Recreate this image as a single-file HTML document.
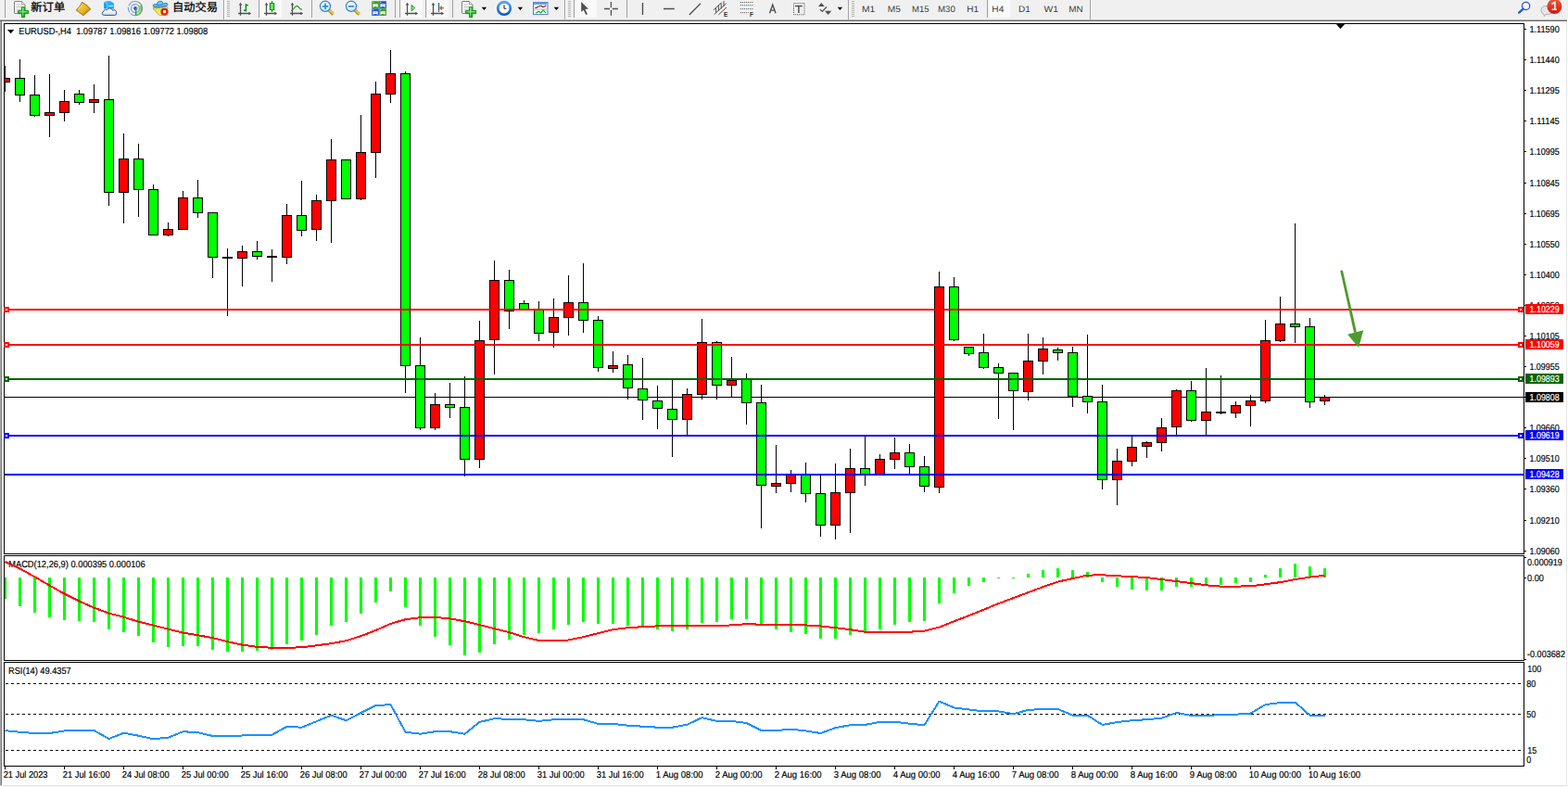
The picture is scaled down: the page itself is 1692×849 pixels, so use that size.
<!DOCTYPE html>
<html><head><meta charset="utf-8"><title>EURUSD-,H4</title>
<style>
html,body{margin:0;padding:0;background:#fff;}
body{width:1692px;height:849px;overflow:hidden;position:relative;font-family:"Liberation Sans",sans-serif;}
svg{position:absolute;left:0;top:0;display:block;}
text{font-family:"Liberation Sans",sans-serif;}
</style></head>
<body>
<svg width="1692" height="849" viewBox="0 0 1692 849">
<g shape-rendering="crispEdges">
<rect x="0" y="0" width="1692" height="849" fill="#ffffff"/>
<rect x="0" y="0" width="1692" height="20" fill="#f0f0f0"/>
<rect x="0" y="20" width="1692" height="1" fill="#f4f4f4"/>
<rect x="0" y="21" width="1691" height="1" fill="#b2b2b2"/>
<rect x="0" y="22" width="1691" height="1" fill="#6a6a6a"/>
<rect x="0" y="23" width="1" height="824" fill="#ababab"/>
<rect x="1" y="23" width="1" height="824" fill="#777777"/>
<rect x="1690" y="23" width="1" height="825" fill="#e6e6e6"/>
<rect x="0" y="847" width="1691" height="1" fill="#e2e2e2"/>
<rect x="0" y="848" width="1692" height="1" fill="#f6f6f6"/>
<rect x="4" y="25" width="1641" height="1" fill="#000"/>
<rect x="4" y="597" width="1641" height="1" fill="#000"/>
<rect x="4" y="25" width="1" height="573" fill="#000"/>
<rect x="1644" y="25" width="1" height="573" fill="#000"/>
<rect x="4" y="599" width="1641" height="1" fill="#000"/>
<rect x="4" y="712" width="1641" height="1" fill="#000"/>
<rect x="4" y="599" width="1" height="114" fill="#000"/>
<rect x="1644" y="599" width="1" height="114" fill="#000"/>
<rect x="4" y="714" width="1641" height="1" fill="#000"/>
<rect x="4" y="826" width="1641" height="1" fill="#000"/>
<rect x="4" y="714" width="1" height="113" fill="#000"/>
<rect x="1644" y="714" width="1" height="113" fill="#000"/>
</g>
<defs><clipPath id="cm"><rect x="5" y="26" width="1639" height="571"/></clipPath><clipPath id="cd"><rect x="5" y="600" width="1639" height="112"/></clipPath><clipPath id="cr"><rect x="5" y="715" width="1639" height="111"/></clipPath></defs>
<g shape-rendering="crispEdges" clip-path="url(#cm)">
<rect x="5" y="428" width="1639" height="1" fill="#000"/>
<rect x="5" y="71" width="1" height="28" fill="#000"/>
<rect x="0" y="84" width="11" height="5" fill="#000"/>
<rect x="1" y="85" width="9" height="3" fill="#ff0000"/>
<rect x="21" y="64" width="1" height="46" fill="#000"/>
<rect x="16" y="84" width="11" height="19" fill="#000"/>
<rect x="17" y="85" width="9" height="17" fill="#00ff00"/>
<rect x="37" y="81" width="1" height="45" fill="#000"/>
<rect x="32" y="102" width="11" height="23" fill="#000"/>
<rect x="33" y="103" width="9" height="21" fill="#00ff00"/>
<rect x="53" y="80" width="1" height="68" fill="#000"/>
<rect x="48" y="121" width="11" height="4" fill="#000"/>
<rect x="49" y="122" width="9" height="2" fill="#ff0000"/>
<rect x="69" y="97" width="1" height="34" fill="#000"/>
<rect x="64" y="109" width="11" height="13" fill="#000"/>
<rect x="65" y="110" width="9" height="11" fill="#ff0000"/>
<rect x="85" y="97" width="1" height="16" fill="#000"/>
<rect x="80" y="101" width="11" height="10" fill="#000"/>
<rect x="81" y="102" width="9" height="8" fill="#00ff00"/>
<rect x="101" y="91" width="1" height="31" fill="#000"/>
<rect x="96" y="107" width="11" height="4" fill="#000"/>
<rect x="97" y="108" width="9" height="2" fill="#ff0000"/>
<rect x="117" y="60" width="1" height="162" fill="#000"/>
<rect x="112" y="107" width="11" height="101" fill="#000"/>
<rect x="113" y="108" width="9" height="99" fill="#00ff00"/>
<rect x="133" y="144" width="1" height="97" fill="#000"/>
<rect x="128" y="171" width="11" height="37" fill="#000"/>
<rect x="129" y="172" width="9" height="35" fill="#ff0000"/>
<rect x="149" y="155" width="1" height="79" fill="#000"/>
<rect x="144" y="171" width="11" height="34" fill="#000"/>
<rect x="145" y="172" width="9" height="32" fill="#00ff00"/>
<rect x="165" y="199" width="1" height="55" fill="#000"/>
<rect x="160" y="204" width="11" height="50" fill="#000"/>
<rect x="161" y="205" width="9" height="48" fill="#00ff00"/>
<rect x="181" y="240" width="1" height="15" fill="#000"/>
<rect x="176" y="247" width="11" height="7" fill="#000"/>
<rect x="177" y="248" width="9" height="5" fill="#ff0000"/>
<rect x="197" y="206" width="1" height="42" fill="#000"/>
<rect x="192" y="213" width="11" height="35" fill="#000"/>
<rect x="193" y="214" width="9" height="33" fill="#ff0000"/>
<rect x="213" y="194" width="1" height="41" fill="#000"/>
<rect x="208" y="213" width="11" height="17" fill="#000"/>
<rect x="209" y="214" width="9" height="15" fill="#00ff00"/>
<rect x="229" y="229" width="1" height="71" fill="#000"/>
<rect x="224" y="229" width="11" height="49" fill="#000"/>
<rect x="225" y="230" width="9" height="47" fill="#00ff00"/>
<rect x="245" y="268" width="1" height="73" fill="#000"/>
<rect x="240" y="277" width="11" height="2" fill="#000"/>
<rect x="261" y="265" width="1" height="44" fill="#000"/>
<rect x="256" y="271" width="11" height="8" fill="#000"/>
<rect x="257" y="272" width="9" height="6" fill="#ff0000"/>
<rect x="277" y="260" width="1" height="20" fill="#000"/>
<rect x="272" y="271" width="11" height="6" fill="#000"/>
<rect x="273" y="272" width="9" height="4" fill="#00ff00"/>
<rect x="293" y="269" width="1" height="35" fill="#000"/>
<rect x="288" y="276" width="11" height="2" fill="#000"/>
<rect x="309" y="220" width="1" height="65" fill="#000"/>
<rect x="304" y="232" width="11" height="46" fill="#000"/>
<rect x="305" y="233" width="9" height="44" fill="#ff0000"/>
<rect x="325" y="195" width="1" height="60" fill="#000"/>
<rect x="320" y="232" width="11" height="17" fill="#000"/>
<rect x="321" y="233" width="9" height="15" fill="#00ff00"/>
<rect x="341" y="210" width="1" height="50" fill="#000"/>
<rect x="336" y="216" width="11" height="32" fill="#000"/>
<rect x="337" y="217" width="9" height="30" fill="#ff0000"/>
<rect x="357" y="150" width="1" height="112" fill="#000"/>
<rect x="352" y="172" width="11" height="45" fill="#000"/>
<rect x="353" y="173" width="9" height="43" fill="#ff0000"/>
<rect x="373" y="172" width="1" height="43" fill="#000"/>
<rect x="368" y="172" width="11" height="43" fill="#000"/>
<rect x="369" y="173" width="9" height="41" fill="#00ff00"/>
<rect x="389" y="124" width="1" height="92" fill="#000"/>
<rect x="384" y="164" width="11" height="51" fill="#000"/>
<rect x="385" y="165" width="9" height="49" fill="#ff0000"/>
<rect x="405" y="88" width="1" height="104" fill="#000"/>
<rect x="400" y="101" width="11" height="64" fill="#000"/>
<rect x="401" y="102" width="9" height="62" fill="#ff0000"/>
<rect x="421" y="54" width="1" height="57" fill="#000"/>
<rect x="416" y="79" width="11" height="23" fill="#000"/>
<rect x="417" y="80" width="9" height="21" fill="#ff0000"/>
<rect x="437" y="77" width="1" height="347" fill="#000"/>
<rect x="432" y="79" width="11" height="316" fill="#000"/>
<rect x="433" y="80" width="9" height="314" fill="#00ff00"/>
<rect x="453" y="364" width="1" height="100" fill="#000"/>
<rect x="448" y="394" width="11" height="68" fill="#000"/>
<rect x="449" y="395" width="9" height="66" fill="#00ff00"/>
<rect x="469" y="424" width="1" height="40" fill="#000"/>
<rect x="464" y="436" width="11" height="26" fill="#000"/>
<rect x="465" y="437" width="9" height="24" fill="#ff0000"/>
<rect x="485" y="413" width="1" height="38" fill="#000"/>
<rect x="480" y="436" width="11" height="4" fill="#000"/>
<rect x="481" y="437" width="9" height="2" fill="#00ff00"/>
<rect x="501" y="406" width="1" height="108" fill="#000"/>
<rect x="496" y="439" width="11" height="57" fill="#000"/>
<rect x="497" y="440" width="9" height="55" fill="#00ff00"/>
<rect x="517" y="346" width="1" height="159" fill="#000"/>
<rect x="512" y="367" width="11" height="129" fill="#000"/>
<rect x="513" y="368" width="9" height="127" fill="#ff0000"/>
<rect x="533" y="281" width="1" height="123" fill="#000"/>
<rect x="528" y="302" width="11" height="65" fill="#000"/>
<rect x="529" y="303" width="9" height="63" fill="#ff0000"/>
<rect x="549" y="291" width="1" height="64" fill="#000"/>
<rect x="544" y="302" width="11" height="34" fill="#000"/>
<rect x="545" y="303" width="9" height="32" fill="#00ff00"/>
<rect x="565" y="324" width="1" height="11" fill="#000"/>
<rect x="560" y="327" width="11" height="8" fill="#000"/>
<rect x="561" y="328" width="9" height="6" fill="#00ff00"/>
<rect x="581" y="325" width="1" height="43" fill="#000"/>
<rect x="576" y="334" width="11" height="26" fill="#000"/>
<rect x="577" y="335" width="9" height="24" fill="#00ff00"/>
<rect x="597" y="322" width="1" height="53" fill="#000"/>
<rect x="592" y="342" width="11" height="17" fill="#000"/>
<rect x="593" y="343" width="9" height="15" fill="#ff0000"/>
<rect x="613" y="297" width="1" height="65" fill="#000"/>
<rect x="608" y="326" width="11" height="17" fill="#000"/>
<rect x="609" y="327" width="9" height="15" fill="#ff0000"/>
<rect x="629" y="284" width="1" height="75" fill="#000"/>
<rect x="624" y="326" width="11" height="20" fill="#000"/>
<rect x="625" y="327" width="9" height="18" fill="#00ff00"/>
<rect x="645" y="341" width="1" height="60" fill="#000"/>
<rect x="640" y="345" width="11" height="52" fill="#000"/>
<rect x="641" y="346" width="9" height="50" fill="#00ff00"/>
<rect x="661" y="379" width="1" height="23" fill="#000"/>
<rect x="656" y="394" width="11" height="4" fill="#000"/>
<rect x="657" y="395" width="9" height="2" fill="#ff0000"/>
<rect x="677" y="383" width="1" height="48" fill="#000"/>
<rect x="672" y="393" width="11" height="26" fill="#000"/>
<rect x="673" y="394" width="9" height="24" fill="#00ff00"/>
<rect x="693" y="386" width="1" height="67" fill="#000"/>
<rect x="688" y="419" width="11" height="13" fill="#000"/>
<rect x="689" y="420" width="9" height="11" fill="#00ff00"/>
<rect x="709" y="416" width="1" height="47" fill="#000"/>
<rect x="704" y="432" width="11" height="9" fill="#000"/>
<rect x="705" y="433" width="9" height="7" fill="#00ff00"/>
<rect x="725" y="409" width="1" height="84" fill="#000"/>
<rect x="720" y="441" width="11" height="12" fill="#000"/>
<rect x="721" y="442" width="9" height="10" fill="#00ff00"/>
<rect x="741" y="419" width="1" height="50" fill="#000"/>
<rect x="736" y="425" width="11" height="28" fill="#000"/>
<rect x="737" y="426" width="9" height="26" fill="#ff0000"/>
<rect x="757" y="344" width="1" height="87" fill="#000"/>
<rect x="752" y="369" width="11" height="57" fill="#000"/>
<rect x="753" y="370" width="9" height="55" fill="#ff0000"/>
<rect x="773" y="368" width="1" height="63" fill="#000"/>
<rect x="768" y="369" width="11" height="47" fill="#000"/>
<rect x="769" y="370" width="9" height="45" fill="#00ff00"/>
<rect x="789" y="385" width="1" height="43" fill="#000"/>
<rect x="784" y="410" width="11" height="6" fill="#000"/>
<rect x="785" y="411" width="9" height="4" fill="#ff0000"/>
<rect x="805" y="403" width="1" height="55" fill="#000"/>
<rect x="800" y="409" width="11" height="26" fill="#000"/>
<rect x="801" y="410" width="9" height="24" fill="#00ff00"/>
<rect x="821" y="415" width="1" height="155" fill="#000"/>
<rect x="816" y="434" width="11" height="90" fill="#000"/>
<rect x="817" y="435" width="9" height="88" fill="#00ff00"/>
<rect x="837" y="480" width="1" height="52" fill="#000"/>
<rect x="832" y="521" width="11" height="4" fill="#000"/>
<rect x="833" y="522" width="9" height="2" fill="#ff0000"/>
<rect x="853" y="507" width="1" height="24" fill="#000"/>
<rect x="848" y="511" width="11" height="11" fill="#000"/>
<rect x="849" y="512" width="9" height="9" fill="#ff0000"/>
<rect x="869" y="499" width="1" height="43" fill="#000"/>
<rect x="864" y="511" width="11" height="22" fill="#000"/>
<rect x="865" y="512" width="9" height="20" fill="#00ff00"/>
<rect x="885" y="513" width="1" height="66" fill="#000"/>
<rect x="880" y="532" width="11" height="35" fill="#000"/>
<rect x="881" y="533" width="9" height="33" fill="#00ff00"/>
<rect x="901" y="500" width="1" height="82" fill="#000"/>
<rect x="896" y="531" width="11" height="36" fill="#000"/>
<rect x="897" y="532" width="9" height="34" fill="#ff0000"/>
<rect x="917" y="484" width="1" height="91" fill="#000"/>
<rect x="912" y="505" width="11" height="27" fill="#000"/>
<rect x="913" y="506" width="9" height="25" fill="#ff0000"/>
<rect x="933" y="471" width="1" height="53" fill="#000"/>
<rect x="928" y="505" width="11" height="8" fill="#000"/>
<rect x="929" y="506" width="9" height="6" fill="#00ff00"/>
<rect x="949" y="490" width="1" height="23" fill="#000"/>
<rect x="944" y="495" width="11" height="18" fill="#000"/>
<rect x="945" y="496" width="9" height="16" fill="#ff0000"/>
<rect x="965" y="472" width="1" height="34" fill="#000"/>
<rect x="960" y="488" width="11" height="8" fill="#000"/>
<rect x="961" y="489" width="9" height="6" fill="#ff0000"/>
<rect x="981" y="479" width="1" height="32" fill="#000"/>
<rect x="976" y="488" width="11" height="16" fill="#000"/>
<rect x="977" y="489" width="9" height="14" fill="#00ff00"/>
<rect x="997" y="492" width="1" height="39" fill="#000"/>
<rect x="992" y="503" width="11" height="22" fill="#000"/>
<rect x="993" y="504" width="9" height="20" fill="#00ff00"/>
<rect x="1013" y="293" width="1" height="239" fill="#000"/>
<rect x="1008" y="309" width="11" height="217" fill="#000"/>
<rect x="1009" y="310" width="9" height="215" fill="#ff0000"/>
<rect x="1029" y="299" width="1" height="69" fill="#000"/>
<rect x="1024" y="309" width="11" height="58" fill="#000"/>
<rect x="1025" y="310" width="9" height="56" fill="#00ff00"/>
<rect x="1045" y="374" width="1" height="10" fill="#000"/>
<rect x="1040" y="374" width="11" height="8" fill="#000"/>
<rect x="1041" y="375" width="9" height="6" fill="#00ff00"/>
<rect x="1061" y="360" width="1" height="38" fill="#000"/>
<rect x="1056" y="380" width="11" height="17" fill="#000"/>
<rect x="1057" y="381" width="9" height="15" fill="#00ff00"/>
<rect x="1077" y="392" width="1" height="60" fill="#000"/>
<rect x="1072" y="396" width="11" height="7" fill="#000"/>
<rect x="1073" y="397" width="9" height="5" fill="#00ff00"/>
<rect x="1093" y="402" width="1" height="62" fill="#000"/>
<rect x="1088" y="402" width="11" height="20" fill="#000"/>
<rect x="1089" y="403" width="9" height="18" fill="#00ff00"/>
<rect x="1109" y="360" width="1" height="72" fill="#000"/>
<rect x="1104" y="389" width="11" height="34" fill="#000"/>
<rect x="1105" y="390" width="9" height="32" fill="#ff0000"/>
<rect x="1125" y="364" width="1" height="40" fill="#000"/>
<rect x="1120" y="376" width="11" height="14" fill="#000"/>
<rect x="1121" y="377" width="9" height="12" fill="#ff0000"/>
<rect x="1141" y="375" width="1" height="14" fill="#000"/>
<rect x="1136" y="377" width="11" height="4" fill="#000"/>
<rect x="1137" y="378" width="9" height="2" fill="#00ff00"/>
<rect x="1157" y="374" width="1" height="65" fill="#000"/>
<rect x="1152" y="380" width="11" height="48" fill="#000"/>
<rect x="1153" y="381" width="9" height="46" fill="#00ff00"/>
<rect x="1173" y="361" width="1" height="85" fill="#000"/>
<rect x="1168" y="427" width="11" height="7" fill="#000"/>
<rect x="1169" y="428" width="9" height="5" fill="#00ff00"/>
<rect x="1189" y="415" width="1" height="113" fill="#000"/>
<rect x="1184" y="433" width="11" height="85" fill="#000"/>
<rect x="1185" y="434" width="9" height="83" fill="#00ff00"/>
<rect x="1205" y="484" width="1" height="61" fill="#000"/>
<rect x="1200" y="497" width="11" height="21" fill="#000"/>
<rect x="1201" y="498" width="9" height="19" fill="#ff0000"/>
<rect x="1221" y="471" width="1" height="32" fill="#000"/>
<rect x="1216" y="482" width="11" height="16" fill="#000"/>
<rect x="1217" y="483" width="9" height="14" fill="#ff0000"/>
<rect x="1237" y="476" width="1" height="18" fill="#000"/>
<rect x="1232" y="477" width="11" height="5" fill="#000"/>
<rect x="1233" y="478" width="9" height="3" fill="#ff0000"/>
<rect x="1253" y="451" width="1" height="36" fill="#000"/>
<rect x="1248" y="461" width="11" height="17" fill="#000"/>
<rect x="1249" y="462" width="9" height="15" fill="#ff0000"/>
<rect x="1269" y="420" width="1" height="49" fill="#000"/>
<rect x="1264" y="421" width="11" height="40" fill="#000"/>
<rect x="1265" y="422" width="9" height="38" fill="#ff0000"/>
<rect x="1285" y="411" width="1" height="44" fill="#000"/>
<rect x="1280" y="421" width="11" height="33" fill="#000"/>
<rect x="1281" y="422" width="9" height="31" fill="#00ff00"/>
<rect x="1301" y="397" width="1" height="72" fill="#000"/>
<rect x="1296" y="444" width="11" height="10" fill="#000"/>
<rect x="1297" y="445" width="9" height="8" fill="#ff0000"/>
<rect x="1317" y="405" width="1" height="42" fill="#000"/>
<rect x="1312" y="444" width="11" height="2" fill="#000"/>
<rect x="1333" y="433" width="1" height="18" fill="#000"/>
<rect x="1328" y="437" width="11" height="9" fill="#000"/>
<rect x="1329" y="438" width="9" height="7" fill="#ff0000"/>
<rect x="1349" y="426" width="1" height="34" fill="#000"/>
<rect x="1344" y="432" width="11" height="6" fill="#000"/>
<rect x="1345" y="433" width="9" height="4" fill="#ff0000"/>
<rect x="1365" y="345" width="1" height="90" fill="#000"/>
<rect x="1360" y="367" width="11" height="66" fill="#000"/>
<rect x="1361" y="368" width="9" height="64" fill="#ff0000"/>
<rect x="1381" y="320" width="1" height="49" fill="#000"/>
<rect x="1376" y="349" width="11" height="19" fill="#000"/>
<rect x="1377" y="350" width="9" height="17" fill="#ff0000"/>
<rect x="1397" y="241" width="1" height="129" fill="#000"/>
<rect x="1392" y="349" width="11" height="4" fill="#000"/>
<rect x="1393" y="350" width="9" height="2" fill="#00ff00"/>
<rect x="1413" y="343" width="1" height="97" fill="#000"/>
<rect x="1408" y="352" width="11" height="82" fill="#000"/>
<rect x="1409" y="353" width="9" height="80" fill="#00ff00"/>
<rect x="1429" y="426" width="1" height="11" fill="#000"/>
<rect x="1424" y="428" width="11" height="5" fill="#000"/>
<rect x="1425" y="429" width="9" height="3" fill="#ff0000"/>
</g>
<g shape-rendering="crispEdges">
<rect x="5" y="333" width="1639" height="2" fill="#ff0000"/>
<rect x="4" y="331" width="6" height="6" fill="#ff0000"/>
<rect x="6" y="333" width="2" height="2" fill="#fff"/>
<rect x="1638" y="331" width="6" height="6" fill="#ff0000"/>
<rect x="1640" y="333" width="2" height="2" fill="#fff"/>
<rect x="5" y="371" width="1639" height="2" fill="#ff0000"/>
<rect x="4" y="369" width="6" height="6" fill="#ff0000"/>
<rect x="6" y="371" width="2" height="2" fill="#fff"/>
<rect x="1638" y="369" width="6" height="6" fill="#ff0000"/>
<rect x="1640" y="371" width="2" height="2" fill="#fff"/>
<rect x="5" y="408" width="1639" height="2" fill="#006400"/>
<rect x="4" y="406" width="6" height="6" fill="#006400"/>
<rect x="6" y="408" width="2" height="2" fill="#fff"/>
<rect x="1638" y="406" width="6" height="6" fill="#006400"/>
<rect x="1640" y="408" width="2" height="2" fill="#fff"/>
<rect x="5" y="469" width="1639" height="2" fill="#0000ff"/>
<rect x="4" y="467" width="6" height="6" fill="#0000ff"/>
<rect x="6" y="469" width="2" height="2" fill="#fff"/>
<rect x="1638" y="467" width="6" height="6" fill="#0000ff"/>
<rect x="1640" y="469" width="2" height="2" fill="#fff"/>
<rect x="5" y="511" width="1639" height="2" fill="#0000ff"/>
</g>
<path d="M1441.5 25.5 L1451.5 25.5 L1446.5 31.2 Z" fill="#000"/>
<path d="M8 32 L15.2 32 L11.6 36.2 Z" fill="#000"/>
<g fill="#4e9a2e" stroke="none"><path d="M1446.2 292.1 L1448.9 291.4 L1463.9 358.2 L1461.1 358.9 Z"/><path d="M1454.1 360.7 L1471.2 356.3 L1466.1 375 Z"/></g>
<g font-family="Liberation Sans, sans-serif">
<text x="9.2" y="612" font-size="10.2" fill="#000" stroke="#000" stroke-width="0.18" text-rendering="geometricPrecision" text-anchor="start" textLength="147.5" lengthAdjust="spacingAndGlyphs" >MACD(12,26,9) 0.000395 0.000106</text>
</g>
<g shape-rendering="crispEdges" clip-path="url(#cd)">
<rect x="4" y="623" width="3" height="23" fill="#00ff00"/>
<rect x="20" y="623" width="3" height="31" fill="#00ff00"/>
<rect x="36" y="623" width="3" height="38" fill="#00ff00"/>
<rect x="52" y="623" width="3" height="43" fill="#00ff00"/>
<rect x="68" y="623" width="3" height="46" fill="#00ff00"/>
<rect x="84" y="623" width="3" height="47" fill="#00ff00"/>
<rect x="100" y="623" width="3" height="48" fill="#00ff00"/>
<rect x="116" y="623" width="3" height="56" fill="#00ff00"/>
<rect x="132" y="623" width="3" height="59" fill="#00ff00"/>
<rect x="148" y="623" width="3" height="63" fill="#00ff00"/>
<rect x="164" y="623" width="3" height="70" fill="#00ff00"/>
<rect x="180" y="623" width="3" height="75" fill="#00ff00"/>
<rect x="196" y="623" width="3" height="74" fill="#00ff00"/>
<rect x="212" y="623" width="3" height="74" fill="#00ff00"/>
<rect x="228" y="623" width="3" height="78" fill="#00ff00"/>
<rect x="244" y="623" width="3" height="80" fill="#00ff00"/>
<rect x="260" y="623" width="3" height="80" fill="#00ff00"/>
<rect x="276" y="623" width="3" height="79" fill="#00ff00"/>
<rect x="292" y="623" width="3" height="78" fill="#00ff00"/>
<rect x="308" y="623" width="3" height="72" fill="#00ff00"/>
<rect x="324" y="623" width="3" height="68" fill="#00ff00"/>
<rect x="340" y="623" width="3" height="62" fill="#00ff00"/>
<rect x="356" y="623" width="3" height="52" fill="#00ff00"/>
<rect x="372" y="623" width="3" height="48" fill="#00ff00"/>
<rect x="388" y="623" width="3" height="39" fill="#00ff00"/>
<rect x="404" y="623" width="3" height="27" fill="#00ff00"/>
<rect x="420" y="623" width="3" height="15" fill="#00ff00"/>
<rect x="436" y="623" width="3" height="32" fill="#00ff00"/>
<rect x="452" y="623" width="3" height="52" fill="#00ff00"/>
<rect x="468" y="623" width="3" height="64" fill="#00ff00"/>
<rect x="484" y="623" width="3" height="73" fill="#00ff00"/>
<rect x="500" y="623" width="3" height="84" fill="#00ff00"/>
<rect x="516" y="623" width="3" height="81" fill="#00ff00"/>
<rect x="532" y="623" width="3" height="72" fill="#00ff00"/>
<rect x="548" y="623" width="3" height="67" fill="#00ff00"/>
<rect x="564" y="623" width="3" height="62" fill="#00ff00"/>
<rect x="580" y="623" width="3" height="60" fill="#00ff00"/>
<rect x="596" y="623" width="3" height="56" fill="#00ff00"/>
<rect x="612" y="623" width="3" height="51" fill="#00ff00"/>
<rect x="628" y="623" width="3" height="48" fill="#00ff00"/>
<rect x="644" y="623" width="3" height="50" fill="#00ff00"/>
<rect x="660" y="623" width="3" height="50" fill="#00ff00"/>
<rect x="676" y="623" width="3" height="52" fill="#00ff00"/>
<rect x="692" y="623" width="3" height="54" fill="#00ff00"/>
<rect x="708" y="623" width="3" height="56" fill="#00ff00"/>
<rect x="724" y="623" width="3" height="58" fill="#00ff00"/>
<rect x="740" y="623" width="3" height="56" fill="#00ff00"/>
<rect x="756" y="623" width="3" height="49" fill="#00ff00"/>
<rect x="772" y="623" width="3" height="48" fill="#00ff00"/>
<rect x="788" y="623" width="3" height="45" fill="#00ff00"/>
<rect x="804" y="623" width="3" height="45" fill="#00ff00"/>
<rect x="820" y="623" width="3" height="52" fill="#00ff00"/>
<rect x="836" y="623" width="3" height="56" fill="#00ff00"/>
<rect x="852" y="623" width="3" height="59" fill="#00ff00"/>
<rect x="868" y="623" width="3" height="61" fill="#00ff00"/>
<rect x="884" y="623" width="3" height="66" fill="#00ff00"/>
<rect x="900" y="623" width="3" height="66" fill="#00ff00"/>
<rect x="916" y="623" width="3" height="62" fill="#00ff00"/>
<rect x="932" y="623" width="3" height="59" fill="#00ff00"/>
<rect x="948" y="623" width="3" height="56" fill="#00ff00"/>
<rect x="964" y="623" width="3" height="51" fill="#00ff00"/>
<rect x="980" y="623" width="3" height="48" fill="#00ff00"/>
<rect x="996" y="623" width="3" height="47" fill="#00ff00"/>
<rect x="1012" y="623" width="3" height="28" fill="#00ff00"/>
<rect x="1028" y="623" width="3" height="17" fill="#00ff00"/>
<rect x="1044" y="623" width="3" height="9" fill="#00ff00"/>
<rect x="1060" y="623" width="3" height="5" fill="#00ff00"/>
<rect x="1076" y="623" width="3" height="1" fill="#00ff00"/>
<rect x="1092" y="623" width="3" height="1" fill="#00ff00"/>
<rect x="1108" y="619" width="3" height="4" fill="#00ff00"/>
<rect x="1124" y="615" width="3" height="8" fill="#00ff00"/>
<rect x="1140" y="613" width="3" height="10" fill="#00ff00"/>
<rect x="1156" y="615" width="3" height="8" fill="#00ff00"/>
<rect x="1172" y="617" width="3" height="6" fill="#00ff00"/>
<rect x="1188" y="623" width="3" height="5" fill="#00ff00"/>
<rect x="1204" y="623" width="3" height="10" fill="#00ff00"/>
<rect x="1220" y="623" width="3" height="13" fill="#00ff00"/>
<rect x="1236" y="623" width="3" height="14" fill="#00ff00"/>
<rect x="1252" y="623" width="3" height="14" fill="#00ff00"/>
<rect x="1268" y="623" width="3" height="10" fill="#00ff00"/>
<rect x="1284" y="623" width="3" height="10" fill="#00ff00"/>
<rect x="1300" y="623" width="3" height="8" fill="#00ff00"/>
<rect x="1316" y="623" width="3" height="8" fill="#00ff00"/>
<rect x="1332" y="623" width="3" height="6" fill="#00ff00"/>
<rect x="1348" y="623" width="3" height="5" fill="#00ff00"/>
<rect x="1364" y="620" width="3" height="3" fill="#00ff00"/>
<rect x="1380" y="613" width="3" height="10" fill="#00ff00"/>
<rect x="1396" y="608" width="3" height="15" fill="#00ff00"/>
<rect x="1412" y="611" width="3" height="12" fill="#00ff00"/>
<rect x="1428" y="613" width="3" height="10" fill="#00ff00"/>
</g>
<polyline points="5.5,606.0 21.5,613.5 37.5,622.3 53.5,631.6 69.5,640.6 85.5,648.6 101.5,655.6 117.5,661.7 133.5,665.7 149.5,670.7 165.5,674.7 181.5,678.7 197.5,682.7 213.5,685.2 229.5,688.2 245.5,692.2 261.5,695.7 277.5,697.8 293.5,698.8 309.5,698.8 325.5,698.3 341.5,696.3 357.5,694.2 373.5,691.2 389.5,686.2 405.5,680.0 421.5,672.9 437.5,668.2 453.5,666.2 469.5,665.9 485.5,667.4 501.5,670.2 517.5,674.2 533.5,678.2 549.5,682.2 565.5,687.2 581.5,691.0 597.5,691.0 613.5,690.5 629.5,687.2 645.5,683.2 661.5,679.2 677.5,677.2 693.5,676.2 709.5,675.4 725.5,675.2 741.5,675.2 757.5,675.2 773.5,675.2 789.5,674.4 805.5,673.2 821.5,673.7 837.5,674.2 853.5,674.2 869.5,674.4 885.5,675.4 901.5,677.2 917.5,679.2 933.5,681.7 949.5,682.0 965.5,682.0 981.5,681.7 997.5,680.7 1013.5,676.7 1029.5,670.2 1045.5,664.2 1061.5,657.7 1077.5,651.1 1093.5,645.1 1109.5,639.1 1125.5,633.1 1141.5,627.6 1157.5,624.1 1173.5,620.6 1189.5,620.3 1205.5,621.3 1221.5,622.1 1237.5,623.1 1253.5,625.1 1269.5,627.1 1285.5,629.1 1301.5,631.3 1317.5,632.6 1333.5,632.6 1349.5,632.3 1365.5,630.3 1381.5,628.1 1397.5,625.1 1413.5,622.6 1429.5,620.8" fill="none" stroke="#ff0000" stroke-width="2" stroke-linejoin="round" shape-rendering="crispEdges" clip-path="url(#cd)"/>
<g shape-rendering="crispEdges">
<line x1="6" y1="737.5" x2="1642" y2="737.5" stroke="#000" stroke-width="1" stroke-dasharray="3 3"/>
<line x1="6" y1="770.5" x2="1642" y2="770.5" stroke="#000" stroke-width="1" stroke-dasharray="3 3"/>
<line x1="6" y1="809.5" x2="1642" y2="809.5" stroke="#000" stroke-width="1" stroke-dasharray="3 3"/>
</g>
<polyline points="5.5,788.2 21.5,789.7 37.5,791.0 53.5,791.0 69.5,788.4 85.5,788.0 101.5,788.0 117.5,797.0 133.5,790.7 149.5,793.7 165.5,797.2 181.5,795.7 197.5,789.2 213.5,790.2 229.5,794.0 245.5,794.0 261.5,793.5 277.5,792.7 293.5,792.7 309.5,783.9 325.5,784.7 341.5,778.2 357.5,771.7 373.5,777.2 389.5,769.1 405.5,761.1 421.5,760.1 437.5,789.7 453.5,791.7 469.5,789.2 485.5,789.2 501.5,791.7 517.5,778.9 533.5,775.2 549.5,775.9 565.5,776.2 581.5,777.9 597.5,776.2 613.5,776.2 629.5,776.2 645.5,780.9 661.5,780.9 677.5,782.7 693.5,783.7 709.5,784.7 725.5,784.7 741.5,781.7 757.5,774.2 773.5,777.9 789.5,777.9 805.5,779.9 821.5,788.0 837.5,788.0 853.5,786.7 869.5,788.4 885.5,791.0 901.5,785.2 917.5,782.2 933.5,781.9 949.5,778.9 965.5,778.7 981.5,780.7 997.5,782.2 1013.5,756.6 1029.5,763.4 1045.5,765.4 1061.5,767.4 1077.5,767.4 1093.5,770.2 1109.5,765.9 1125.5,764.9 1141.5,764.9 1157.5,771.7 1173.5,771.7 1189.5,781.9 1205.5,779.1 1221.5,777.2 1237.5,776.2 1253.5,774.7 1269.5,768.9 1285.5,771.9 1301.5,771.9 1317.5,771.2 1333.5,770.7 1349.5,769.6 1365.5,760.1 1381.5,758.1 1397.5,757.6 1413.5,771.7 1429.5,771.7" fill="none" stroke="#1e90ff" stroke-width="2" stroke-linejoin="round" shape-rendering="crispEdges" clip-path="url(#cr)"/>
<g font-family="Liberation Sans, sans-serif" font-size="10.2">
<g shape-rendering="crispEdges">
<rect x="1645" y="31" width="2" height="1" fill="#000"/>
<rect x="1645" y="64" width="2" height="1" fill="#000"/>
<rect x="1645" y="97" width="2" height="1" fill="#000"/>
<rect x="1645" y="130" width="2" height="1" fill="#000"/>
<rect x="1645" y="163" width="2" height="1" fill="#000"/>
<rect x="1645" y="197" width="2" height="1" fill="#000"/>
<rect x="1645" y="230" width="2" height="1" fill="#000"/>
<rect x="1645" y="263" width="2" height="1" fill="#000"/>
<rect x="1645" y="296" width="2" height="1" fill="#000"/>
<rect x="1645" y="329" width="2" height="1" fill="#000"/>
<rect x="1645" y="362" width="2" height="1" fill="#000"/>
<rect x="1645" y="395" width="2" height="1" fill="#000"/>
<rect x="1645" y="428" width="2" height="1" fill="#000"/>
<rect x="1645" y="461" width="2" height="1" fill="#000"/>
<rect x="1645" y="494" width="2" height="1" fill="#000"/>
<rect x="1645" y="527" width="2" height="1" fill="#000"/>
<rect x="1645" y="561" width="2" height="1" fill="#000"/>
<rect x="1645" y="594" width="2" height="1" fill="#000"/>
</g>
<text x="1650.4" y="35" font-size="10.2" fill="#000" stroke="#000" stroke-width="0.18" text-rendering="geometricPrecision" text-anchor="start" textLength="32.4" lengthAdjust="spacingAndGlyphs" >1.11590</text>
<text x="1650.4" y="68" font-size="10.2" fill="#000" stroke="#000" stroke-width="0.18" text-rendering="geometricPrecision" text-anchor="start" textLength="32.4" lengthAdjust="spacingAndGlyphs" >1.11440</text>
<text x="1650.4" y="101" font-size="10.2" fill="#000" stroke="#000" stroke-width="0.18" text-rendering="geometricPrecision" text-anchor="start" textLength="32.4" lengthAdjust="spacingAndGlyphs" >1.11295</text>
<text x="1650.4" y="134" font-size="10.2" fill="#000" stroke="#000" stroke-width="0.18" text-rendering="geometricPrecision" text-anchor="start" textLength="32.4" lengthAdjust="spacingAndGlyphs" >1.11145</text>
<text x="1650.4" y="167" font-size="10.2" fill="#000" stroke="#000" stroke-width="0.18" text-rendering="geometricPrecision" text-anchor="start" textLength="32.4" lengthAdjust="spacingAndGlyphs" >1.10995</text>
<text x="1650.4" y="201" font-size="10.2" fill="#000" stroke="#000" stroke-width="0.18" text-rendering="geometricPrecision" text-anchor="start" textLength="32.4" lengthAdjust="spacingAndGlyphs" >1.10845</text>
<text x="1650.4" y="234" font-size="10.2" fill="#000" stroke="#000" stroke-width="0.18" text-rendering="geometricPrecision" text-anchor="start" textLength="32.4" lengthAdjust="spacingAndGlyphs" >1.10695</text>
<text x="1650.4" y="267" font-size="10.2" fill="#000" stroke="#000" stroke-width="0.18" text-rendering="geometricPrecision" text-anchor="start" textLength="32.4" lengthAdjust="spacingAndGlyphs" >1.10550</text>
<text x="1650.4" y="300" font-size="10.2" fill="#000" stroke="#000" stroke-width="0.18" text-rendering="geometricPrecision" text-anchor="start" textLength="32.4" lengthAdjust="spacingAndGlyphs" >1.10400</text>
<text x="1650.4" y="333" font-size="10.2" fill="#000" stroke="#000" stroke-width="0.18" text-rendering="geometricPrecision" text-anchor="start" textLength="32.4" lengthAdjust="spacingAndGlyphs" >1.10250</text>
<text x="1650.4" y="366" font-size="10.2" fill="#000" stroke="#000" stroke-width="0.18" text-rendering="geometricPrecision" text-anchor="start" textLength="32.4" lengthAdjust="spacingAndGlyphs" >1.10105</text>
<text x="1650.4" y="399" font-size="10.2" fill="#000" stroke="#000" stroke-width="0.18" text-rendering="geometricPrecision" text-anchor="start" textLength="32.4" lengthAdjust="spacingAndGlyphs" >1.09955</text>
<text x="1650.4" y="432" font-size="10.2" fill="#000" stroke="#000" stroke-width="0.18" text-rendering="geometricPrecision" text-anchor="start" textLength="32.4" lengthAdjust="spacingAndGlyphs" >1.09810</text>
<text x="1650.4" y="465" font-size="10.2" fill="#000" stroke="#000" stroke-width="0.18" text-rendering="geometricPrecision" text-anchor="start" textLength="32.4" lengthAdjust="spacingAndGlyphs" >1.09660</text>
<text x="1650.4" y="498" font-size="10.2" fill="#000" stroke="#000" stroke-width="0.18" text-rendering="geometricPrecision" text-anchor="start" textLength="32.4" lengthAdjust="spacingAndGlyphs" >1.09510</text>
<text x="1650.4" y="531" font-size="10.2" fill="#000" stroke="#000" stroke-width="0.18" text-rendering="geometricPrecision" text-anchor="start" textLength="32.4" lengthAdjust="spacingAndGlyphs" >1.09360</text>
<text x="1650.4" y="565" font-size="10.2" fill="#000" stroke="#000" stroke-width="0.18" text-rendering="geometricPrecision" text-anchor="start" textLength="32.4" lengthAdjust="spacingAndGlyphs" >1.09210</text>
<text x="1650.4" y="598" font-size="10.2" fill="#000" stroke="#000" stroke-width="0.18" text-rendering="geometricPrecision" text-anchor="start" textLength="32.4" lengthAdjust="spacingAndGlyphs" >1.09060</text>
<g shape-rendering="crispEdges">
<rect x="1646" y="328" width="41" height="11" fill="#ff0000"/>
<rect x="1646" y="366" width="41" height="11" fill="#ff0000"/>
<rect x="1646" y="403" width="41" height="11" fill="#006400"/>
<rect x="1646" y="423" width="41" height="11" fill="#000000"/>
<rect x="1646" y="464" width="41" height="11" fill="#0000ff"/>
<rect x="1646" y="506" width="41" height="11" fill="#0000ff"/>
</g>
<text x="1650.5" y="337" font-size="10.2" fill="#fff" stroke="#fff" stroke-width="0.18" text-rendering="geometricPrecision" text-anchor="start" textLength="32.2" lengthAdjust="spacingAndGlyphs" >1.10229</text>
<text x="1650.5" y="375" font-size="10.2" fill="#fff" stroke="#fff" stroke-width="0.18" text-rendering="geometricPrecision" text-anchor="start" textLength="32.2" lengthAdjust="spacingAndGlyphs" >1.10059</text>
<text x="1650.5" y="412" font-size="10.2" fill="#fff" stroke="#fff" stroke-width="0.18" text-rendering="geometricPrecision" text-anchor="start" textLength="32.2" lengthAdjust="spacingAndGlyphs" >1.09893</text>
<text x="1650.5" y="432" font-size="10.2" fill="#fff" stroke="#fff" stroke-width="0.18" text-rendering="geometricPrecision" text-anchor="start" textLength="32.2" lengthAdjust="spacingAndGlyphs" >1.09808</text>
<text x="1650.5" y="473" font-size="10.2" fill="#fff" stroke="#fff" stroke-width="0.18" text-rendering="geometricPrecision" text-anchor="start" textLength="32.2" lengthAdjust="spacingAndGlyphs" >1.09619</text>
<text x="1650.5" y="515" font-size="10.2" fill="#fff" stroke="#fff" stroke-width="0.18" text-rendering="geometricPrecision" text-anchor="start" textLength="32.2" lengthAdjust="spacingAndGlyphs" >1.09428</text>
<g shape-rendering="crispEdges">
<rect x="1645" y="601" width="2" height="1" fill="#000"/>
<rect x="1645" y="623" width="2" height="1" fill="#000"/>
<rect x="1645" y="711" width="2" height="1" fill="#000"/>
</g>
<text x="1648" y="610" font-size="10.2" fill="#000" stroke="#000" stroke-width="0.18" text-rendering="geometricPrecision" text-anchor="start" textLength="37.9" lengthAdjust="spacingAndGlyphs" >0.000919</text>
<text x="1648" y="627" font-size="10.2" fill="#000" stroke="#000" stroke-width="0.18" text-rendering="geometricPrecision" text-anchor="start" textLength="17.9" lengthAdjust="spacingAndGlyphs" >0.00</text>
<text x="1648" y="709" font-size="10.2" fill="#000" stroke="#000" stroke-width="0.18" text-rendering="geometricPrecision" text-anchor="start" textLength="41" lengthAdjust="spacingAndGlyphs" >-0.003682</text>
<text x="1648.3" y="724.8" font-size="10.2" fill="#000" stroke="#000" stroke-width="0.18" text-rendering="geometricPrecision" text-anchor="start" textLength="15.0" lengthAdjust="spacingAndGlyphs" >100</text>
<text x="1647.2" y="740.7" font-size="10.2" fill="#000" stroke="#000" stroke-width="0.18" text-rendering="geometricPrecision" text-anchor="start" textLength="10.0" lengthAdjust="spacingAndGlyphs" >80</text>
<text x="1647.2" y="773.7" font-size="10.2" fill="#000" stroke="#000" stroke-width="0.18" text-rendering="geometricPrecision" text-anchor="start" textLength="10.0" lengthAdjust="spacingAndGlyphs" >50</text>
<text x="1648.3" y="812.8" font-size="10.2" fill="#000" stroke="#000" stroke-width="0.18" text-rendering="geometricPrecision" text-anchor="start" textLength="10.0" lengthAdjust="spacingAndGlyphs" >15</text>
<text x="1647.2" y="822.8" font-size="10.2" fill="#000" stroke="#000" stroke-width="0.18" text-rendering="geometricPrecision" text-anchor="start" textLength="5.0" lengthAdjust="spacingAndGlyphs" >0</text>
<text x="20.2" y="37" font-size="10.2" fill="#000" stroke="#000" stroke-width="0.18" text-rendering="geometricPrecision" text-anchor="start" textLength="204" lengthAdjust="spacingAndGlyphs" xml:space="preserve">EURUSD-,H4&#160;&#160;1.09787 1.09816 1.09772 1.09808</text>
<text x="9" y="727" font-size="10.2" fill="#000" stroke="#000" stroke-width="0.18" text-rendering="geometricPrecision" text-anchor="start" textLength="67.7" lengthAdjust="spacingAndGlyphs" >RSI(14) 49.4357</text>
<g shape-rendering="crispEdges">
<rect x="5" y="827" width="1" height="3" fill="#000"/>
<rect x="69" y="827" width="1" height="3" fill="#000"/>
<rect x="133" y="827" width="1" height="3" fill="#000"/>
<rect x="197" y="827" width="1" height="3" fill="#000"/>
<rect x="261" y="827" width="1" height="3" fill="#000"/>
<rect x="325" y="827" width="1" height="3" fill="#000"/>
<rect x="389" y="827" width="1" height="3" fill="#000"/>
<rect x="453" y="827" width="1" height="3" fill="#000"/>
<rect x="517" y="827" width="1" height="3" fill="#000"/>
<rect x="581" y="827" width="1" height="3" fill="#000"/>
<rect x="645" y="827" width="1" height="3" fill="#000"/>
<rect x="709" y="827" width="1" height="3" fill="#000"/>
<rect x="773" y="827" width="1" height="3" fill="#000"/>
<rect x="837" y="827" width="1" height="3" fill="#000"/>
<rect x="901" y="827" width="1" height="3" fill="#000"/>
<rect x="965" y="827" width="1" height="3" fill="#000"/>
<rect x="1029" y="827" width="1" height="3" fill="#000"/>
<rect x="1093" y="827" width="1" height="3" fill="#000"/>
<rect x="1157" y="827" width="1" height="3" fill="#000"/>
<rect x="1221" y="827" width="1" height="3" fill="#000"/>
<rect x="1285" y="827" width="1" height="3" fill="#000"/>
<rect x="1349" y="827" width="1" height="3" fill="#000"/>
<rect x="1413" y="827" width="1" height="3" fill="#000"/>
</g>
<text x="3.7" y="839" font-size="10.2" fill="#000" stroke="#000" stroke-width="0.18" text-rendering="geometricPrecision" text-anchor="start" textLength="47.8" lengthAdjust="spacingAndGlyphs" >21 Jul 2023</text>
<text x="67.7" y="839" font-size="10.2" fill="#000" stroke="#000" stroke-width="0.18" text-rendering="geometricPrecision" text-anchor="start" textLength="51" lengthAdjust="spacingAndGlyphs" >21 Jul 16:00</text>
<text x="131.7" y="839" font-size="10.2" fill="#000" stroke="#000" stroke-width="0.18" text-rendering="geometricPrecision" text-anchor="start" textLength="51" lengthAdjust="spacingAndGlyphs" >24 Jul 08:00</text>
<text x="195.7" y="839" font-size="10.2" fill="#000" stroke="#000" stroke-width="0.18" text-rendering="geometricPrecision" text-anchor="start" textLength="51" lengthAdjust="spacingAndGlyphs" >25 Jul 00:00</text>
<text x="259.7" y="839" font-size="10.2" fill="#000" stroke="#000" stroke-width="0.18" text-rendering="geometricPrecision" text-anchor="start" textLength="51" lengthAdjust="spacingAndGlyphs" >25 Jul 16:00</text>
<text x="323.7" y="839" font-size="10.2" fill="#000" stroke="#000" stroke-width="0.18" text-rendering="geometricPrecision" text-anchor="start" textLength="51" lengthAdjust="spacingAndGlyphs" >26 Jul 08:00</text>
<text x="387.7" y="839" font-size="10.2" fill="#000" stroke="#000" stroke-width="0.18" text-rendering="geometricPrecision" text-anchor="start" textLength="51" lengthAdjust="spacingAndGlyphs" >27 Jul 00:00</text>
<text x="451.7" y="839" font-size="10.2" fill="#000" stroke="#000" stroke-width="0.18" text-rendering="geometricPrecision" text-anchor="start" textLength="51" lengthAdjust="spacingAndGlyphs" >27 Jul 16:00</text>
<text x="515.7" y="839" font-size="10.2" fill="#000" stroke="#000" stroke-width="0.18" text-rendering="geometricPrecision" text-anchor="start" textLength="51" lengthAdjust="spacingAndGlyphs" >28 Jul 08:00</text>
<text x="579.7" y="839" font-size="10.2" fill="#000" stroke="#000" stroke-width="0.18" text-rendering="geometricPrecision" text-anchor="start" textLength="51" lengthAdjust="spacingAndGlyphs" >31 Jul 00:00</text>
<text x="643.7" y="839" font-size="10.2" fill="#000" stroke="#000" stroke-width="0.18" text-rendering="geometricPrecision" text-anchor="start" textLength="51" lengthAdjust="spacingAndGlyphs" >31 Jul 16:00</text>
<text x="707.7" y="839" font-size="10.2" fill="#000" stroke="#000" stroke-width="0.18" text-rendering="geometricPrecision" text-anchor="start" textLength="51" lengthAdjust="spacingAndGlyphs" >1 Aug 08:00</text>
<text x="771.7" y="839" font-size="10.2" fill="#000" stroke="#000" stroke-width="0.18" text-rendering="geometricPrecision" text-anchor="start" textLength="51" lengthAdjust="spacingAndGlyphs" >2 Aug 00:00</text>
<text x="835.7" y="839" font-size="10.2" fill="#000" stroke="#000" stroke-width="0.18" text-rendering="geometricPrecision" text-anchor="start" textLength="51" lengthAdjust="spacingAndGlyphs" >2 Aug 16:00</text>
<text x="899.7" y="839" font-size="10.2" fill="#000" stroke="#000" stroke-width="0.18" text-rendering="geometricPrecision" text-anchor="start" textLength="51" lengthAdjust="spacingAndGlyphs" >3 Aug 08:00</text>
<text x="963.7" y="839" font-size="10.2" fill="#000" stroke="#000" stroke-width="0.18" text-rendering="geometricPrecision" text-anchor="start" textLength="51" lengthAdjust="spacingAndGlyphs" >4 Aug 00:00</text>
<text x="1027.7" y="839" font-size="10.2" fill="#000" stroke="#000" stroke-width="0.18" text-rendering="geometricPrecision" text-anchor="start" textLength="51" lengthAdjust="spacingAndGlyphs" >4 Aug 16:00</text>
<text x="1091.7" y="839" font-size="10.2" fill="#000" stroke="#000" stroke-width="0.18" text-rendering="geometricPrecision" text-anchor="start" textLength="51" lengthAdjust="spacingAndGlyphs" >7 Aug 08:00</text>
<text x="1155.7" y="839" font-size="10.2" fill="#000" stroke="#000" stroke-width="0.18" text-rendering="geometricPrecision" text-anchor="start" textLength="51" lengthAdjust="spacingAndGlyphs" >8 Aug 00:00</text>
<text x="1219.7" y="839" font-size="10.2" fill="#000" stroke="#000" stroke-width="0.18" text-rendering="geometricPrecision" text-anchor="start" textLength="51" lengthAdjust="spacingAndGlyphs" >8 Aug 16:00</text>
<text x="1283.7" y="839" font-size="10.2" fill="#000" stroke="#000" stroke-width="0.18" text-rendering="geometricPrecision" text-anchor="start" textLength="51" lengthAdjust="spacingAndGlyphs" >9 Aug 08:00</text>
<text x="1347.7" y="839" font-size="10.2" fill="#000" stroke="#000" stroke-width="0.18" text-rendering="geometricPrecision" text-anchor="start" textLength="56.4" lengthAdjust="spacingAndGlyphs" >10 Aug 00:00</text>
<text x="1411.7" y="839" font-size="10.2" fill="#000" stroke="#000" stroke-width="0.18" text-rendering="geometricPrecision" text-anchor="start" textLength="56.4" lengthAdjust="spacingAndGlyphs" >10 Aug 16:00</text>
</g>
<g font-family="Liberation Sans, sans-serif"><g shape-rendering="crispEdges">
<rect x="281" y="0" width="23" height="19" fill="#f9f9f9"/>
<rect x="432" y="0" width="24" height="19" fill="#f9f9f9"/>
<rect x="461" y="0" width="23" height="19" fill="#f9f9f9"/>
<rect x="620" y="0" width="24" height="19" fill="#f9f9f9"/>
<rect x="1067" y="0" width="23" height="19" fill="#f9f9f9"/>
<rect x="5" y="0" width="1" height="19" fill="#a0a0a0"/>
<rect x="279" y="0" width="1" height="19" fill="#a0a0a0"/>
<rect x="336" y="0" width="1" height="19" fill="#a0a0a0"/>
<rect x="426" y="0" width="1" height="19" fill="#a0a0a0"/>
<rect x="431" y="0" width="1" height="19" fill="#a0a0a0"/>
<rect x="459" y="0" width="1" height="19" fill="#a0a0a0"/>
<rect x="488" y="0" width="1" height="19" fill="#a0a0a0"/>
<rect x="619" y="0" width="1" height="19" fill="#a0a0a0"/>
<rect x="676" y="0" width="1" height="19" fill="#a0a0a0"/>
<rect x="1065" y="0" width="1" height="19" fill="#a0a0a0"/>
<rect x="241" y="0" width="1" height="21" fill="#a0a0a0"/><rect x="242" y="0" width="1" height="21" fill="#ffffff"/>
<rect x="609" y="0" width="1" height="21" fill="#a0a0a0"/><rect x="610" y="0" width="1" height="21" fill="#ffffff"/>
<rect x="915" y="0" width="1" height="21" fill="#a0a0a0"/><rect x="916" y="0" width="1" height="21" fill="#ffffff"/>
<rect x="1176" y="0" width="1" height="21" fill="#a0a0a0"/><rect x="1177" y="0" width="1" height="21" fill="#ffffff"/>
<rect x="245" y="1" width="3" height="1" fill="#b4b4b4"/>
<rect x="245" y="3" width="3" height="1" fill="#b4b4b4"/>
<rect x="245" y="5" width="3" height="1" fill="#b4b4b4"/>
<rect x="245" y="7" width="3" height="1" fill="#b4b4b4"/>
<rect x="245" y="9" width="3" height="1" fill="#b4b4b4"/>
<rect x="245" y="11" width="3" height="1" fill="#b4b4b4"/>
<rect x="245" y="13" width="3" height="1" fill="#b4b4b4"/>
<rect x="245" y="15" width="3" height="1" fill="#b4b4b4"/>
<rect x="245" y="17" width="3" height="1" fill="#b4b4b4"/>
<rect x="613" y="1" width="3" height="1" fill="#b4b4b4"/>
<rect x="613" y="3" width="3" height="1" fill="#b4b4b4"/>
<rect x="613" y="5" width="3" height="1" fill="#b4b4b4"/>
<rect x="613" y="7" width="3" height="1" fill="#b4b4b4"/>
<rect x="613" y="9" width="3" height="1" fill="#b4b4b4"/>
<rect x="613" y="11" width="3" height="1" fill="#b4b4b4"/>
<rect x="613" y="13" width="3" height="1" fill="#b4b4b4"/>
<rect x="613" y="15" width="3" height="1" fill="#b4b4b4"/>
<rect x="613" y="17" width="3" height="1" fill="#b4b4b4"/>
<rect x="919" y="1" width="3" height="1" fill="#b4b4b4"/>
<rect x="919" y="3" width="3" height="1" fill="#b4b4b4"/>
<rect x="919" y="5" width="3" height="1" fill="#b4b4b4"/>
<rect x="919" y="7" width="3" height="1" fill="#b4b4b4"/>
<rect x="919" y="9" width="3" height="1" fill="#b4b4b4"/>
<rect x="919" y="11" width="3" height="1" fill="#b4b4b4"/>
<rect x="919" y="13" width="3" height="1" fill="#b4b4b4"/>
<rect x="919" y="15" width="3" height="1" fill="#b4b4b4"/>
<rect x="919" y="17" width="3" height="1" fill="#b4b4b4"/>
</g>
<defs>
<linearGradient id="gGold" x1="0" y1="0" x2="1" y2="1"><stop offset="0" stop-color="#fbe04a"/><stop offset="0.6" stop-color="#e6b422"/><stop offset="1" stop-color="#b97a1a"/></linearGradient>
<linearGradient id="gPlus" x1="0" y1="0" x2="0" y2="1"><stop offset="0" stop-color="#5be65b"/><stop offset="1" stop-color="#0a9a0a"/></linearGradient>
<linearGradient id="gRed" x1="0" y1="0" x2="0" y2="1"><stop offset="0" stop-color="#ea5a3a"/><stop offset="1" stop-color="#d01a0c"/></linearGradient>
<linearGradient id="gBlue" x1="0" y1="0" x2="0" y2="1"><stop offset="0" stop-color="#4aa8ff"/><stop offset="1" stop-color="#0a58c8"/></linearGradient>
<linearGradient id="gCandle" x1="0" y1="0" x2="1" y2="0"><stop offset="0" stop-color="#18c818"/><stop offset="0.5" stop-color="#7cf07c"/><stop offset="1" stop-color="#18c818"/></linearGradient>
<radialGradient id="gLens" cx="0.4" cy="0.35" r="0.7"><stop offset="0" stop-color="#f4fcff"/><stop offset="1" stop-color="#c4e6f6"/></radialGradient>
</defs>
<path d="M15.5 2.2 Q15.5 1.5 16.2 1.5 L23.5 1.5 L27 5 L27 13.8 Q27 14.5 26.3 14.5 L16.2 14.5 Q15.5 14.5 15.5 13.8 Z" fill="#ffffff" stroke="#7c7c7c" stroke-width="1"/>
<path d="M23.5 1.5 L23.5 5 L27 5" fill="#e8e8e8" stroke="#8c8c8c" stroke-width="0.8"/>
<rect x="17.5" y="4.5" width="5" height="1" fill="#b8b8b8"/>
<rect x="17.5" y="7" width="6.5" height="1" fill="#b8b8b8"/>
<rect x="17.5" y="9.5" width="6.5" height="1" fill="#b8b8b8"/>
<rect x="17.5" y="11.8" width="6.5" height="1" fill="#b8b8b8"/>
<path d="M23.5 7.6 h3.2 v3.9 h3.9 v3.2 h-3.9 v3.9 h-3.2 v-3.9 h-3.9 v-3.2 h3.9 Z" fill="url(#gPlus)" stroke="#0a8a0a" stroke-width="0.9"/>
<path d="M24.6 8.5 v9.2 M20.5 12.6 h9.2" stroke="#9cf09c" stroke-width="0.9" opacity="0.8" fill="none"/>
<text x="33.3" y="12.3" font-size="12.3" fill="#000" stroke="#000" stroke-width="0.27" text-rendering="geometricPrecision" textLength="36.9" lengthAdjust="spacingAndGlyphs" style="font-family:'Liberation Sans','Noto Sans CJK SC',sans-serif;">新订单</text>
<path d="M82.4 10.9 Q86.7 7.5 88.5 2.5 Q93.6 4.9 97.6 9.8 L89.9 16.6 Z" fill="url(#gGold)" stroke="#b47a1e" stroke-width="1.1" stroke-linejoin="round"/>
<path d="M90.1 14.9 L95.9 9.9" fill="none" stroke="#c08a2c" stroke-width="0.8"/>
<path d="M84.6 9.6 Q87.6 7 88.9 4" fill="none" stroke="#fff2a8" stroke-width="0.9" opacity="0.8"/>
<defs><linearGradient id="gCloud" x1="0" y1="0" x2="0" y2="1"><stop offset="0" stop-color="#ffffff"/><stop offset="0.55" stop-color="#eef1f8"/><stop offset="1" stop-color="#bcc6dc"/></linearGradient><radialGradient id="gSig" cx="0" cy="0.5" r="1"><stop offset="0" stop-color="#e8f4e4"/><stop offset="0.55" stop-color="#b4d8ac"/><stop offset="1" stop-color="#5c9c64"/></radialGradient></defs>
<path d="M112.1 2 L118.9 1.2 L122.7 3.4 L122.7 9.6 L112.1 9.6 Z" fill="#0aa0ff"/>
<path d="M112.1 2 L118.9 1.2 L122.7 3.4 L115.7 4 Z" fill="#27b4ff"/>
<path d="M115.9 4.1 L122.7 3.5 L122.7 9.6 L115.9 9.6 Z" fill="#2ea8ff"/>
<path d="M112.3 2.1 L115.7 4 V9.6" stroke="#d8f0ff" stroke-width="0.6" fill="none"/>
<rect x="117.2" y="5.9" width="4.7" height="0.9" fill="#f0f8ff"/>
<path d="M112.6 16.5 Q110.2 16.5 110.3 14.3 Q110.4 12.6 112 12.2 Q112 10.6 113.6 10.5 Q114.6 10.4 115.2 11 Q116.2 8.9 118.6 9 Q121 9.2 121.6 11.3 Q122.6 10.4 124 10.9 Q125.9 11.7 125.6 13.7 Q126 16.5 123.4 16.5 Z" fill="url(#gCloud)" stroke="#3f5c9c" stroke-width="1"/>
<path d="M146.6 9.1 L146.6 16.7 A7.6 7.6 0 0 0 152.4 5 Z" fill="url(#gSig)" opacity="0.9"/>
<g fill="none" stroke-width="1.2"><path d="M146 1.5 A7.6 7.6 0 0 0 146 16.7" stroke="#5a84dc" opacity="0.8" stroke-dasharray="9 1.5 6 1.5 20"/><path d="M146 4.6 A4.5 4.5 0 0 0 146 13.6" stroke="#5a84dc" opacity="0.8"/><path d="M146 1.5 A7.6 7.6 0 0 1 146 16.7" stroke="#5e9e78" opacity="0.85"/><path d="M146 4.6 A4.5 4.5 0 0 1 146 13.6" stroke="#78b088" opacity="0.85"/></g>
<circle cx="146" cy="9" r="1.9" fill="#2a52cc"/>
<rect x="146" y="9" width="1.3" height="7.7" fill="#20a420"/>
<defs><linearGradient id="gYel" x1="0" y1="0" x2="1" y2="1"><stop offset="0" stop-color="#f4c81c"/><stop offset="0.6" stop-color="#fbee7a"/><stop offset="1" stop-color="#f2d030"/></linearGradient><linearGradient id="gHat" x1="0" y1="0" x2="0" y2="1"><stop offset="0" stop-color="#8ccdf4"/><stop offset="1" stop-color="#4ea6de"/></linearGradient><radialGradient id="gStop" cx="0.55" cy="0.7" r="0.7"><stop offset="0" stop-color="#ff3a10"/><stop offset="1" stop-color="#c01c00"/></radialGradient></defs>
<path d="M165.4 8 L180.8 7.3 L180.6 10.5 L175 16.7 L172.2 16.7 L165.6 10 Z" fill="url(#gYel)" stroke="#c8a018" stroke-width="0.8" stroke-linejoin="round"/>
<path d="M165.2 6.3 Q165 4.6 167.6 4.4 Q169 4.3 169.4 5 Q169.3 1.3 172.7 1.2 Q175.9 1.2 176.2 4 Q178.6 2.9 180.4 3.6 Q181.6 4.4 180.6 5.8 Q178.4 7.6 173.4 8 Q168 8.6 165.8 7.4 Z" fill="url(#gHat)" stroke="#1f86b4" stroke-width="0.9" stroke-linejoin="round"/>
<path d="M169.4 5.2 Q172.6 6.6 176.2 4.6" fill="none" stroke="#1f86b4" stroke-width="0.8"/>
<circle cx="177.5" cy="12.8" r="4.1" fill="url(#gStop)"/>
<rect x="176" y="11.2" width="3" height="2.8" fill="#fff"/>
<text x="185.9" y="12.3" font-size="12.3" fill="#000" stroke="#000" stroke-width="0.27" text-rendering="geometricPrecision" textLength="49.2" lengthAdjust="spacingAndGlyphs" style="font-family:'Liberation Sans','Noto Sans CJK SC',sans-serif;">自动交易</text>
<g stroke="#505050" stroke-width="1.3" fill="none"><path d="M259.5 4.2 V16.8 M257.1 14.5 H269.5"/></g>
<path d="M259.5 2.8 L261.3 5.6 L257.7 5.6 Z M271.1 14.5 L268.3 12.7 L268.3 16.3 Z" fill="#505050"/>
<path d="M265.4 4.1 V12.6 M265.4 5.6 H267.9 M262.9 11.3 H265.4" stroke="#0a8a0a" stroke-width="1.4" fill="none"/>
<g stroke="#505050" stroke-width="1.3" fill="none"><path d="M287.5 4.2 V16.8 M285.1 14.5 H297.5"/></g>
<path d="M287.5 2.8 L289.3 5.6 L285.7 5.6 Z M299.1 14.5 L296.3 12.7 L296.3 16.3 Z" fill="#505050"/>
<path d="M293.5 1.2 V12.8" stroke="#0a8a0a" stroke-width="1.3"/>
<rect x="291.2" y="3.6" width="4.6" height="7" fill="url(#gCandle)" stroke="#0a8a0a" stroke-width="0.9"/>
<g stroke="#505050" stroke-width="1.3" fill="none"><path d="M315.5 4.2 V16.8 M313.1 14.5 H325.5"/></g>
<path d="M315.5 2.8 L317.3 5.6 L313.7 5.6 Z M327.1 14.5 L324.3 12.7 L324.3 16.3 Z" fill="#505050"/>
<path d="M314.2 11.6 Q317.5 9 319 7.2 Q320.2 5.8 321.4 6.8 Q323.5 9.5 325.8 10.4" stroke="#2c9a2c" stroke-width="1.2" fill="none"/>
<path d="M354.6 10.6 L359.6 15.4" stroke="#b8860b" stroke-width="3.4" stroke-linecap="butt"/>
<path d="M354.9 10.3 L359.9 15.1" stroke="#f2d23c" stroke-width="1.7"/>
<circle cx="351" cy="6.8" r="5.6" fill="url(#gLens)" stroke="#3a80c8" stroke-width="1.2"/>
<rect x="347.8" y="6" width="6.4" height="1.7" fill="#3c8cb4"/>
<rect x="350.15" y="3.6" width="1.7" height="6.4" fill="#3c8cb4"/>
<path d="M382.6 10.6 L387.6 15.4" stroke="#b8860b" stroke-width="3.4" stroke-linecap="butt"/>
<path d="M382.9 10.3 L387.9 15.1" stroke="#f2d23c" stroke-width="1.7"/>
<circle cx="379" cy="6.8" r="5.6" fill="url(#gLens)" stroke="#3a80c8" stroke-width="1.2"/>
<rect x="375.8" y="6" width="6.4" height="1.7" fill="#3c8cb4"/>
<rect x="401.2" y="1.2" width="7.7" height="7.7" fill="#3aa01c"/>
<path d="M402.4 4.2 H407.7 V7.8 H406.59999999999997 V7.0 H403.5 V7.8 H402.4 Z" fill="#fff"/>
<rect x="403.4" y="5.2" width="3.3" height="0.8" fill="#a8d898"/>
<rect x="402.2" y="2.1" width="1" height="0.8" fill="#e8f0ff"/>
<rect x="409.2" y="1.2" width="7.7" height="7.7" fill="#2458cc"/>
<path d="M410.4 4.2 H415.7 V7.8 H414.59999999999997 V7.0 H411.5 V7.8 H410.4 Z" fill="#fff"/>
<rect x="411.4" y="5.2" width="3.3" height="0.8" fill="#98b0e8"/>
<rect x="410.2" y="2.1" width="1" height="0.8" fill="#e8f0ff"/>
<rect x="401.2" y="9.2" width="7.7" height="7.7" fill="#2458cc"/>
<path d="M402.4 12.2 H407.7 V15.799999999999999 H406.59999999999997 V15.0 H403.5 V15.799999999999999 H402.4 Z" fill="#fff"/>
<rect x="403.4" y="13.2" width="3.3" height="0.8" fill="#98b0e8"/>
<rect x="402.2" y="10.1" width="1" height="0.8" fill="#e8f0ff"/>
<rect x="409.2" y="9.2" width="7.7" height="7.7" fill="#3aa01c"/>
<path d="M410.4 12.2 H415.7 V15.799999999999999 H414.59999999999997 V15.0 H411.5 V15.799999999999999 H410.4 Z" fill="#fff"/>
<rect x="411.4" y="13.2" width="3.3" height="0.8" fill="#a8d898"/>
<rect x="410.2" y="10.1" width="1" height="0.8" fill="#e8f0ff"/>
<g stroke="#505050" stroke-width="1.3" fill="none"><path d="M439.5 4.2 V16.8 M437.1 14.5 H449.5"/></g>
<path d="M439.5 2.8 L441.3 5.6 L437.7 5.6 Z M451.1 14.5 L448.3 12.7 L448.3 16.3 Z" fill="#505050"/>
<path d="M444 5.3 L444 11.8 L447.8 8.6 Z" fill="#8ee08e" stroke="#1aa01a" stroke-width="1"/>
<g stroke="#505050" stroke-width="1.3" fill="none"><path d="M467.5 4.2 V16.8 M465.1 14.5 H477.5"/></g>
<path d="M467.5 2.8 L469.3 5.6 L465.7 5.6 Z M479.1 14.5 L476.3 12.7 L476.3 16.3 Z" fill="#505050"/>
<path d="M473.5 3 V12.8" stroke="#1a6ea0" stroke-width="1.3"/>
<path d="M474.6 8.6 H478.8 M474.6 8.6 L476.8 6.6 M474.6 8.6 L476.8 10.6" stroke="#d25000" stroke-width="1.2" fill="none"/>
<path d="M474.4 8.6 L477 6.9 L477 10.3 Z" fill="#e86000"/>
<path d="M498.5 2.2 Q498.5 1.5 499.2 1.5 L506.5 1.5 L510 5 L510 13.8 Q510 14.5 509.3 14.5 L499.2 14.5 Q498.5 14.5 498.5 13.8 Z" fill="#ffffff" stroke="#7c7c7c" stroke-width="1"/>
<path d="M506.5 1.5 L506.5 5 L510 5" fill="#e8e8e8" stroke="#8c8c8c" stroke-width="0.8"/>
<rect x="500.5" y="4.5" width="5" height="1" fill="#b8b8b8"/>
<rect x="500.5" y="7" width="6.5" height="1" fill="#b8b8b8"/>
<rect x="500.5" y="9.5" width="6.5" height="1" fill="#b8b8b8"/>
<rect x="500.5" y="11.8" width="6.5" height="1" fill="#b8b8b8"/>
<path d="M506.5 7.6 h3.2 v3.9 h3.9 v3.2 h-3.9 v3.9 h-3.2 v-3.9 h-3.9 v-3.2 h3.9 Z" fill="url(#gPlus)" stroke="#0a8a0a" stroke-width="0.9"/>
<path d="M507.6 8.5 v9.2 M503.5 12.6 h9.2" stroke="#9cf09c" stroke-width="0.9" opacity="0.8" fill="none"/>
<path d="M519.6999999999999 7.8 L525.1 7.8 L522.4 10.9 Z" fill="#000"/>
<circle cx="544" cy="8.9" r="6.8" fill="#fdfdfd" stroke="url(#gBlue)" stroke-width="2.6"/>
<path d="M544 9.2 V5.6 M544 9.2 L546.4 9.2" stroke="#202020" stroke-width="1.1" fill="none"/>
<g fill="#808080"><rect x="543.6" y="3.1" width="0.8" height="0.9"/><rect x="543.6" y="13.8" width="0.8" height="0.9"/><rect x="538.3" y="8.5" width="0.9" height="0.8"/><rect x="548.8" y="8.5" width="0.9" height="0.8"/></g>
<path d="M558.6999999999999 7.8 L564.1 7.8 L561.4 10.9 Z" fill="#000"/>
<rect x="575.5" y="2.6" width="15.5" height="13" fill="#ffffff" stroke="#4a80c8" stroke-width="1"/>
<rect x="576" y="3.1" width="14.5" height="1.8" fill="#5a98e0"/>
<rect x="576" y="9.6" width="14.5" height="0.9" fill="#8ab0e0"/>
<path d="M577.3 8.4 H579 L580.6 7 H582 L583 6.2 H584.4 L585.2 7.4 H587 L588.4 6.4 H589.4" stroke="#a01800" stroke-width="1.1" fill="none"/>
<path d="M578.2 13.6 H579.6 L580.6 12.4 H581.6 L582.8 13.6 H584 L585.6 11.3 H586.6 L588.8 13.8" stroke="#18a018" stroke-width="1.1" fill="none"/>
<path d="M597.6999999999999 7.8 L603.1 7.8 L600.4 10.9 Z" fill="#000"/>
<path d="M627.2 2.1 L627.2 12.9 L629.7 10.7 L632.2 16.1 L634 15.2 L631.4 9.9 L634.9 9.5 Z" fill="#505050"/>
<path d="M659.4 2.1 V8.2 M659.4 10.8 V16.8 M652 9.5 H658 M660.8 9.5 H666.8" stroke="#505050" stroke-width="1.3" fill="none"/>
<path d="M693.5 3 V16 M716 9.5 H727.8" stroke="#505050" stroke-width="1.4" fill="none"/>
<path d="M743.8 16 L756 3.8" stroke="#505050" stroke-width="1.3" fill="none"/>
<g stroke="#505050" stroke-width="1" fill="none"><path d="M769.8 10.8 L778.4 3 M770.6 15.6 L783.6 3.8 M775.4 15.8 L784 8"/><path d="M772.6 8.2 V14 M775.4 5.8 V11.6 M778.2 3.4 V9.4 M781 1.2 V7"/></g>
<text x="780.9" y="17.7" font-size="6.4" font-weight="bold" fill="#303030">E</text>
<line x1="799" y1="2.5" x2="812.4" y2="2.5" stroke="#505050" stroke-width="1" stroke-dasharray="1 1.05"/>
<line x1="799" y1="5.7" x2="812.4" y2="5.7" stroke="#505050" stroke-width="1" stroke-dasharray="1 1.05"/>
<line x1="799" y1="9.6" x2="812.4" y2="9.6" stroke="#505050" stroke-width="1" stroke-dasharray="1 1.05"/>
<line x1="799" y1="13.7" x2="807.8" y2="13.7" stroke="#505050" stroke-width="1" stroke-dasharray="1 1.05"/>
<text x="808.9" y="17.7" font-size="6.4" font-weight="bold" fill="#303030">F</text>
<path d="M830.5 14.2 L833.75 5.1 L837 14.2 M831.7 11.1 H835.8" stroke="#505050" stroke-width="1.45" fill="none" stroke-linejoin="miter"/>
<rect x="856.5" y="3.5" width="11.5" height="12.3" fill="none" stroke="#505050" stroke-width="1" stroke-dasharray="1 1.06"/>
<path d="M858 6.6 H865.8 M861.9 6.6 V13.9" stroke="#505050" stroke-width="1.5" fill="none"/>
<path d="M886.3 3 L889.8 7.1 L883 7.1 Z M893.6 16 L897.2 11.8 L890 11.8 Z" fill="#505050"/>
<path d="M885 10.3 L887.4 12.4 L891.9 7.4" stroke="#505050" stroke-width="1.3" fill="none"/>
<path d="M903.6999999999999 7.8 L909.1 7.8 L906.4 10.9 Z" fill="#000"/>
<text x="929.9" y="12.8" font-size="9.6" fill="#3c3c3c" text-rendering="geometricPrecision" textLength="14.2" lengthAdjust="spacingAndGlyphs">M1</text>
<text x="957.8" y="12.8" font-size="9.6" fill="#3c3c3c" text-rendering="geometricPrecision" textLength="14.1" lengthAdjust="spacingAndGlyphs">M5</text>
<text x="984.1" y="12.8" font-size="9.6" fill="#3c3c3c" text-rendering="geometricPrecision" textLength="18.6" lengthAdjust="spacingAndGlyphs">M15</text>
<text x="1012.0" y="12.8" font-size="9.6" fill="#3c3c3c" text-rendering="geometricPrecision" textLength="18.9" lengthAdjust="spacingAndGlyphs">M30</text>
<text x="1043.2" y="12.8" font-size="9.6" fill="#3c3c3c" text-rendering="geometricPrecision" textLength="12.9" lengthAdjust="spacingAndGlyphs">H1</text>
<text x="1070.3" y="12.8" font-size="9.6" fill="#3c3c3c" text-rendering="geometricPrecision" textLength="13.0" lengthAdjust="spacingAndGlyphs">H4</text>
<text x="1099.0" y="12.8" font-size="9.6" fill="#3c3c3c" text-rendering="geometricPrecision" textLength="12.7" lengthAdjust="spacingAndGlyphs">D1</text>
<text x="1126.6" y="12.8" font-size="9.6" fill="#3c3c3c" text-rendering="geometricPrecision" textLength="15.4" lengthAdjust="spacingAndGlyphs">W1</text>
<text x="1153.3" y="12.8" font-size="9.6" fill="#3c3c3c" text-rendering="geometricPrecision" textLength="15.3" lengthAdjust="spacingAndGlyphs">MN</text>
<circle cx="1646.6" cy="6.4" r="4.1" fill="#f6f6ff" stroke="#2a5ad0" stroke-width="1.3"/>
<path d="M1643.6 9.6 L1639.2 13.6" stroke="#2a5ad0" stroke-width="2.4" stroke-linecap="round"/>
<path d="M1663 11.2 Q1663 6.4 1669 6.4 Q1675.4 6.4 1675.4 11.2 Q1675.4 15.6 1669 15.6 L1667.8 15.6 L1666.3 17.7 L1666 15.3 Q1663 14.4 1663 11.2 Z" fill="#e6e6ee" stroke="#a8a8a8" stroke-width="0.9"/>
<circle cx="1677.4" cy="7" r="8" fill="url(#gRed)"/>
<path d="M1674.5 4.6 L1677.1 2.6 L1677.9 2.6 V10.1 M1674.7 10.3 H1679.9" stroke="#fff" stroke-width="1.5" fill="none"/></g>
</svg>
</body></html>
